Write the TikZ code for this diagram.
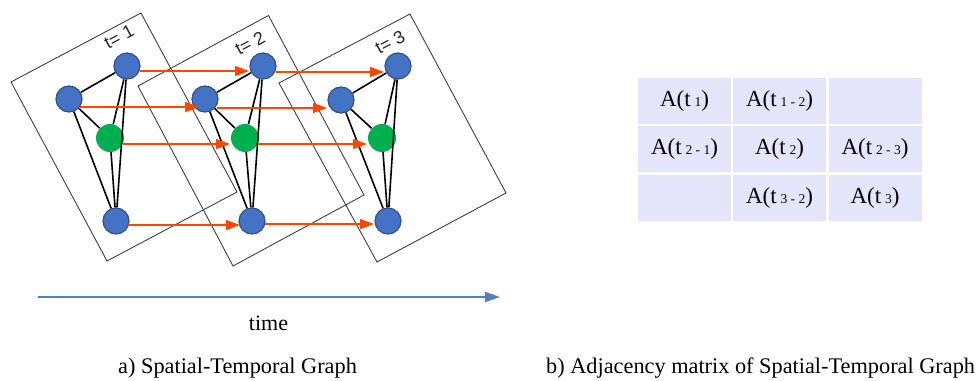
\documentclass[tikz,border=0pt]{standalone}
\usepackage{fontspec}
\setmainfont{Liberation Serif}
\newfontfamily\labfont{Liberation Sans}
\usetikzlibrary{arrows.meta,calc}
\definecolor{nodeblue}{RGB}{68,114,196}
\definecolor{nodeborder}{RGB}{47,82,143}
\definecolor{nodegreen}{RGB}{0,176,80}
\definecolor{arrred}{RGB}{255,69,0}
\definecolor{timeblue}{RGB}{79,129,189}
\definecolor{cellfill}{RGB}{228,228,250}
\definecolor{framegray}{RGB}{64,64,64}
\newcommand\mysubtxt[1]{\,{\fontsize{13.5}{13.5}\selectfont #1}}
\begin{document}
\begin{tikzpicture}[x=1pt,y=-1pt,
  frame/.style={draw=framegray,line width=0.9pt},
  bnode/.style={circle,fill=nodeblue,draw=nodeborder,line width=1.2pt,minimum size=26pt,inner sep=0pt},
  gnode/.style={circle,fill=nodegreen,minimum size=28pt,inner sep=0pt},
  edge/.style={black,line width=1.6pt},
  tarrow/.style={arrred,line width=1.2pt,-{Triangle[length=14pt,width=10pt]}},
  timearrow/.style={timeblue,line width=2pt,-{Triangle[length=15pt,width=10pt]}},
  tlabel/.style={font=\labfont\fontsize{18}{21}\selectfont,text=black!85,rotate=28,inner sep=0pt},
  cell/.style={rectangle,fill=cellfill,minimum width=93pt,minimum height=46pt,inner sep=0pt,font=\fontsize{23}{27}\selectfont},
  caption/.style={font=\fontsize{22.3}{27}\selectfont,inner sep=0pt}]
\useasboundingbox (0,0) rectangle (979,380);

% frames
\draw[frame] (141,13) -- (237,192) -- (107,261) -- (11,82) -- cycle;
\draw[frame] (268.5,15.5) -- (364,195) -- (233,266) -- (138,86) -- cycle;
\draw[frame] (410,14) -- (506,193) -- (377,262) -- (279,83) -- cycle;

% labels
\node[tlabel] (t1) at (119,37) {t= 1};
\node[tlabel] (t2) at (250,43) {t= 2};
\node[tlabel] (t3) at (390,42) {t= 3};

% nodes
\node[bnode] (n1t) at (127,66) {};
\node[bnode] (n1l) at (69,99) {};
\node[gnode] (n1g) at (110,138) {};
\node[bnode] (n1b) at (116,221) {};
\node[bnode] (n2t) at (263,66) {};
\node[bnode] (n2l) at (205,99) {};
\node[gnode] (n2g) at (245,138) {};
\node[bnode] (n2b) at (252,221) {};
\node[bnode] (n3t) at (398,66) {};
\node[bnode] (n3l) at (341,100) {};
\node[gnode] (n3g) at (382,138) {};
\node[bnode] (n3b) at (388,221) {};

% spatial edges
\foreach \k in {1,2,3}{
  \draw[edge] (n\k t) -- (n\k l);
  \draw[edge] (n\k l) -- (n\k g);
  \draw[edge] (n\k t) -- (n\k g);
  \draw[edge] (n\k t) -- (n\k b);
  \draw[edge] (n\k l) -- (n\k b);
  \draw[edge] (n\k g) -- (n\k b);
}

% temporal arrows
\draw[tarrow] ($(n1t)+(13,5)$) -- ($(n2t)+(-14,5)$);
\draw[tarrow] ($(n1l)+(11,8)$) -- ($(n2l)+(-6,8)$);
\draw[tarrow] ($(n1g)+(13,6)$) -- ($(n2g)+(-15,6)$);
\draw[tarrow] ($(n1b)+(12,4)$) -- ($(n2b)+(-12,4)$);
\draw[tarrow] ($(n2t)+(13,6)$) -- ($(n3t)+(-14,6)$);
\draw[tarrow] ($(n2l)+(12,9)$) -- ($(n3l)+(-14,8)$);
\draw[tarrow] ($(n2g)+(13,6)$) -- ($(n3g)+(-15,6)$);
\draw[tarrow] ($(n2b)+(13,3)$) -- ($(n3b)+(-14,3)$);

% time axis
\coordinate (ts) at (38,297);
\coordinate (te) at (500,297);
\draw[timearrow] (ts) -- (te);
\node[caption,font=\fontsize{22}{26}\selectfont,anchor=base] (time) at (268.5,330) {time};

% adjacency matrix
\node[cell] (m11) at (684.5,101) {A(t\mysubtxt{1})};
\node[cell] (m12) at (779.5,101) {A(t\mysubtxt{1 - 2})};
\node[cell] (m13) at (875,101) {};
\node[cell] (m21) at (684.5,149) {A(t\mysubtxt{2 - 1})};
\node[cell] (m22) at (779.5,149) {A(t\mysubtxt{2})};
\node[cell] (m23) at (875,149) {A(t\mysubtxt{2 - 3})};
\node[cell] (m31) at (684.5,197.5) {};
\node[cell] (m32) at (779.5,197.5) {A(t\mysubtxt{3 - 2})};
\node[cell] (m33) at (875,197.5) {A(t\mysubtxt{3})};

% captions
\node[caption,anchor=base west] (capa) at (118,373) {a) Spatial-Temporal Graph};
\node[caption,anchor=base west] (capb) at (546,373) {b) Adjacency matrix of Spatial-Temporal Graph};
\end{tikzpicture}
\end{document}
